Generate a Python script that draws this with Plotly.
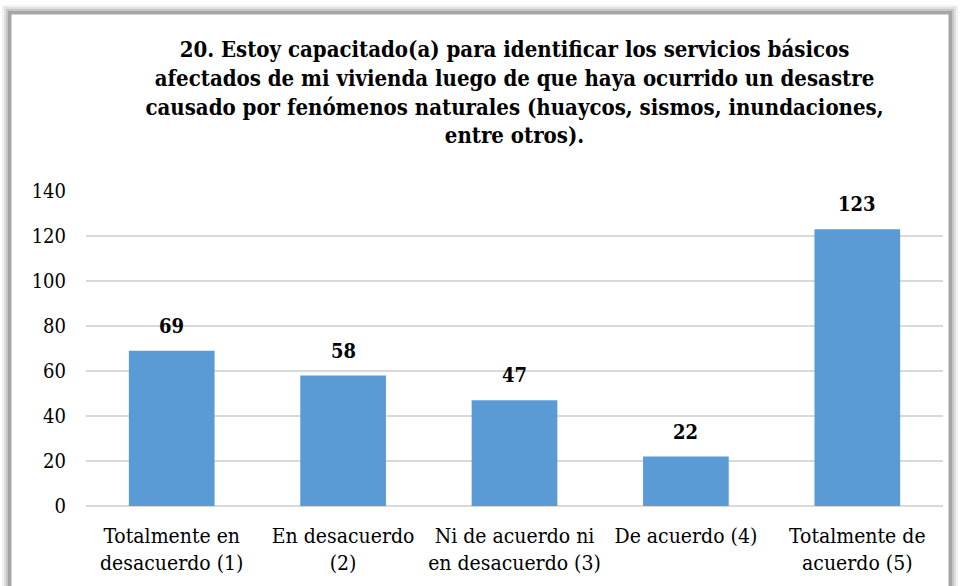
import plotly.graph_objects as go

categories = [
    "Totalmente en<br>desacuerdo (1)",
    "En desacuerdo<br>(2)",
    "Ni de acuerdo ni<br>en desacuerdo (3)",
    "De acuerdo (4)",
    "Totalmente de<br>acuerdo (5)",
]
counts = [69, 58, 47, 22, 123]
y_ticks = [0, 20, 40, 60, 80, 100, 120, 140]

title_text = (
    "<b>20. Estoy capacitado(a) para identificar los servicios básicos<br>"
    "afectados de mi vivienda luego de que haya ocurrido un desastre<br>"
    "causado por fenómenos naturales (huaycos, sismos, inundaciones,<br>"
    "entre otros).</b>"
)

serif = "DejaVu Serif Condensed, DejaVu Serif"

figure = go.Figure()
figure.add_trace(
    go.Bar(
        x=categories,
        y=counts,
        width=0.5,
        marker={"color": "#5b9bd5", "line": {"width": 0}},
        showlegend=False,
    )
)

for category, value in zip(categories, counts):
    figure.add_annotation(
        x=category,
        y=value,
        text=f"<b>{value}</b>",
        showarrow=False,
        yanchor="bottom",
        yshift=11,
        font={"family": serif, "size": 20, "color": "#000000"},
    )


# frame with soft shadow (paper coords: plot area spans 86..943 x, 191..506 y)
def px_x(px):
    return (px - 86) / 857


def px_y(py):
    return (506 - py) / 315


for offset, alpha in [(8, 0.08), (6, 0.12), (4, 0.18), (2, 0.30)]:
    figure.add_shape(
        type="rect",
        xref="paper",
        yref="paper",
        x0=px_x(10 - offset),
        x1=px_x(950 + offset),
        y0=px_y(600),
        y1=px_y(13 - offset),
        line={"width": 0},
        fillcolor=f"rgba(90,90,90,{alpha})",
        layer="below",
    )
figure.add_shape(
    type="rect",
    xref="paper",
    yref="paper",
    x0=px_x(11),
    x1=px_x(949),
    y0=px_y(600),
    y1=px_y(14),
    line={"width": 1, "color": "#a6a6a6"},
    fillcolor="#ffffff",
    layer="below",
)

figure.update_layout(
    width=961,
    height=586,
    margin={"l": 86, "r": 18, "t": 191, "b": 80},
    paper_bgcolor="#ffffff",
    plot_bgcolor="rgba(0,0,0,0)",
    title={
        "text": title_text,
        "x": 0.5,
        "xref": "paper",
        "y": 0.902,
        "yanchor": "top",
        "font": {"family": serif, "size": 22, "color": "#000000"},
    },
    xaxis={
        "tickfont": {"family": serif, "size": 21, "color": "#000000"},
        "showgrid": False,
        "showline": False,
        "ticks": "",
        "ticklabelstandoff": 15,
    },
    yaxis={
        "range": [0, 140],
        "tickvals": y_ticks,
        "tickfont": {"family": serif, "size": 20, "color": "#000000"},
        "showgrid": True,
        "gridcolor": "#d9d9d9",
        "gridwidth": 1.5,
        "zeroline": True,
        "zerolinecolor": "#d9d9d9",
        "zerolinewidth": 1.5,
        "showline": False,
        "ticklabelstandoff": 19,
    },
    bargap=0.5,
)

figure.write_html(
    "out.html",
    config={"displayModeBar": False},
    post_script="document.body.style.margin='0px';",
)
